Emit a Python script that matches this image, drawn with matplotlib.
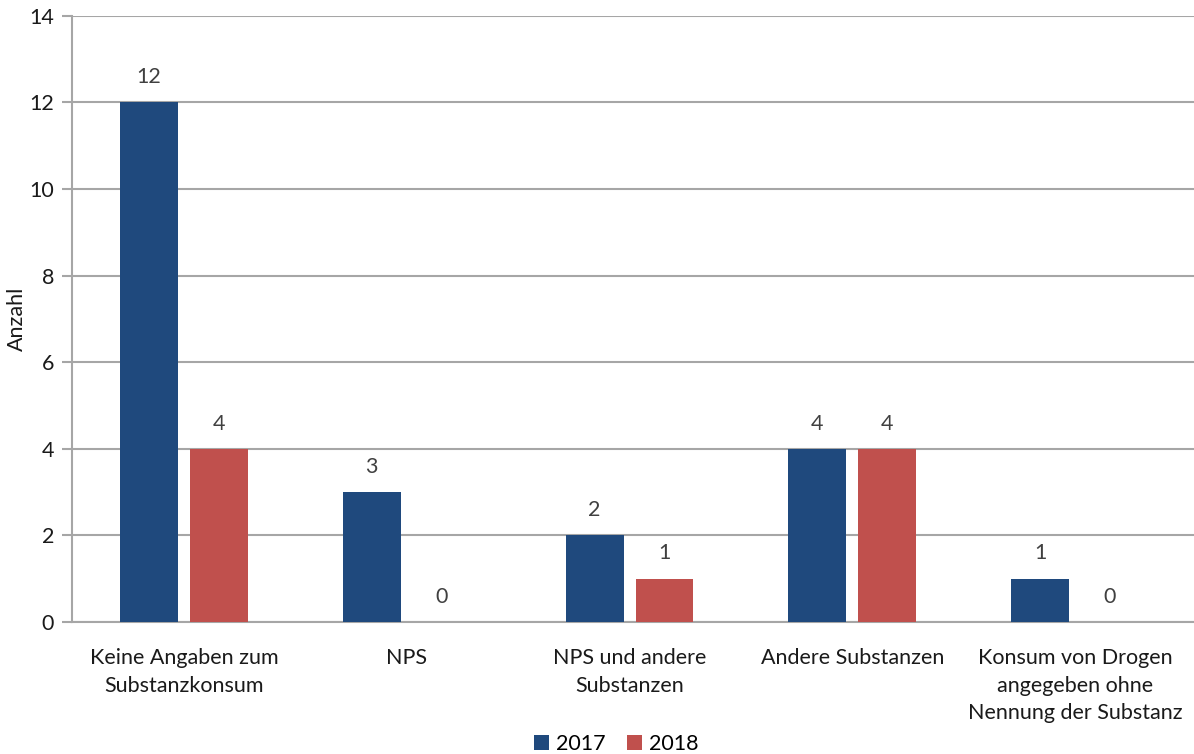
import numpy as np
import matplotlib.pyplot as plt

plt.rcParams['font.family'] = ['Lato', 'DejaVu Sans']

categories = ['Keine Angaben zum\nSubstanzkonsum', 'NPS', 'NPS und andere\nSubstanzen',
              'Andere Substanzen', 'Konsum von Drogen\nangegeben ohne\nNennung der Substanz']
values_2017 = [12, 3, 2, 4, 1]
values_2018 = [4, 0, 1, 4, 0]

blue = '#1f497d'
red = '#c0504d'
grid_col = '#a6a6a6'
fs = 15.5

fig = plt.figure(figsize=(11.94, 7.54), dpi=100)
ax = fig.add_axes([0.0603, 0.175, 0.9397, 0.804])

x = np.arange(len(categories))
w = 0.26
off = 0.157
b1 = ax.bar(x - off, values_2017, w, color=blue, label='2017', zorder=3)
b2 = ax.bar(x + off, values_2018, w, color=red, label='2018', zorder=3)

for bars in (b1, b2):
    for rect in bars:
        h = rect.get_height()
        ax.annotate(f'{int(h)}', (rect.get_x() + rect.get_width() / 2, h),
                    xytext=(0, 11), textcoords='offset points', ha='center', va='bottom',
                    fontsize=fs, color='#404040')

ax.set_xlim(-0.503, 4.534)
ax.set_ylim(0, 14)
ax.set_yticks(range(0, 15, 2))
ax.yaxis.grid(True, color=grid_col, linewidth=1.5, zorder=0)
ax.set_axisbelow(True)

ax.set_xticks(x)
ax.set_xticklabels(categories, fontsize=fs, color='#1a1a1a', linespacing=1.45)
ax.tick_params(axis='x', length=0, pad=19)
ax.tick_params(axis='y', length=7, width=1.5, color=grid_col, labelsize=fs, labelcolor='#1a1a1a', pad=6)
ax.set_ylabel('Anzahl', fontsize=fs, color='#1a1a1a')
ax.yaxis.set_label_coords(-0.040, 0.5)

for s in ['top', 'right']:
    ax.spines[s].set_visible(False)
for s in ['left', 'bottom']:
    ax.spines[s].set_color(grid_col)
    ax.spines[s].set_linewidth(1.5)

ax.legend(loc='lower center', bbox_to_anchor=(0.485, -0.25), ncol=2, frameon=False,
          fontsize=fs, handlelength=0.7, handleheight=0.7, handletextpad=0.3, columnspacing=1.0)

fig.savefig('out.png', dpi=100)
